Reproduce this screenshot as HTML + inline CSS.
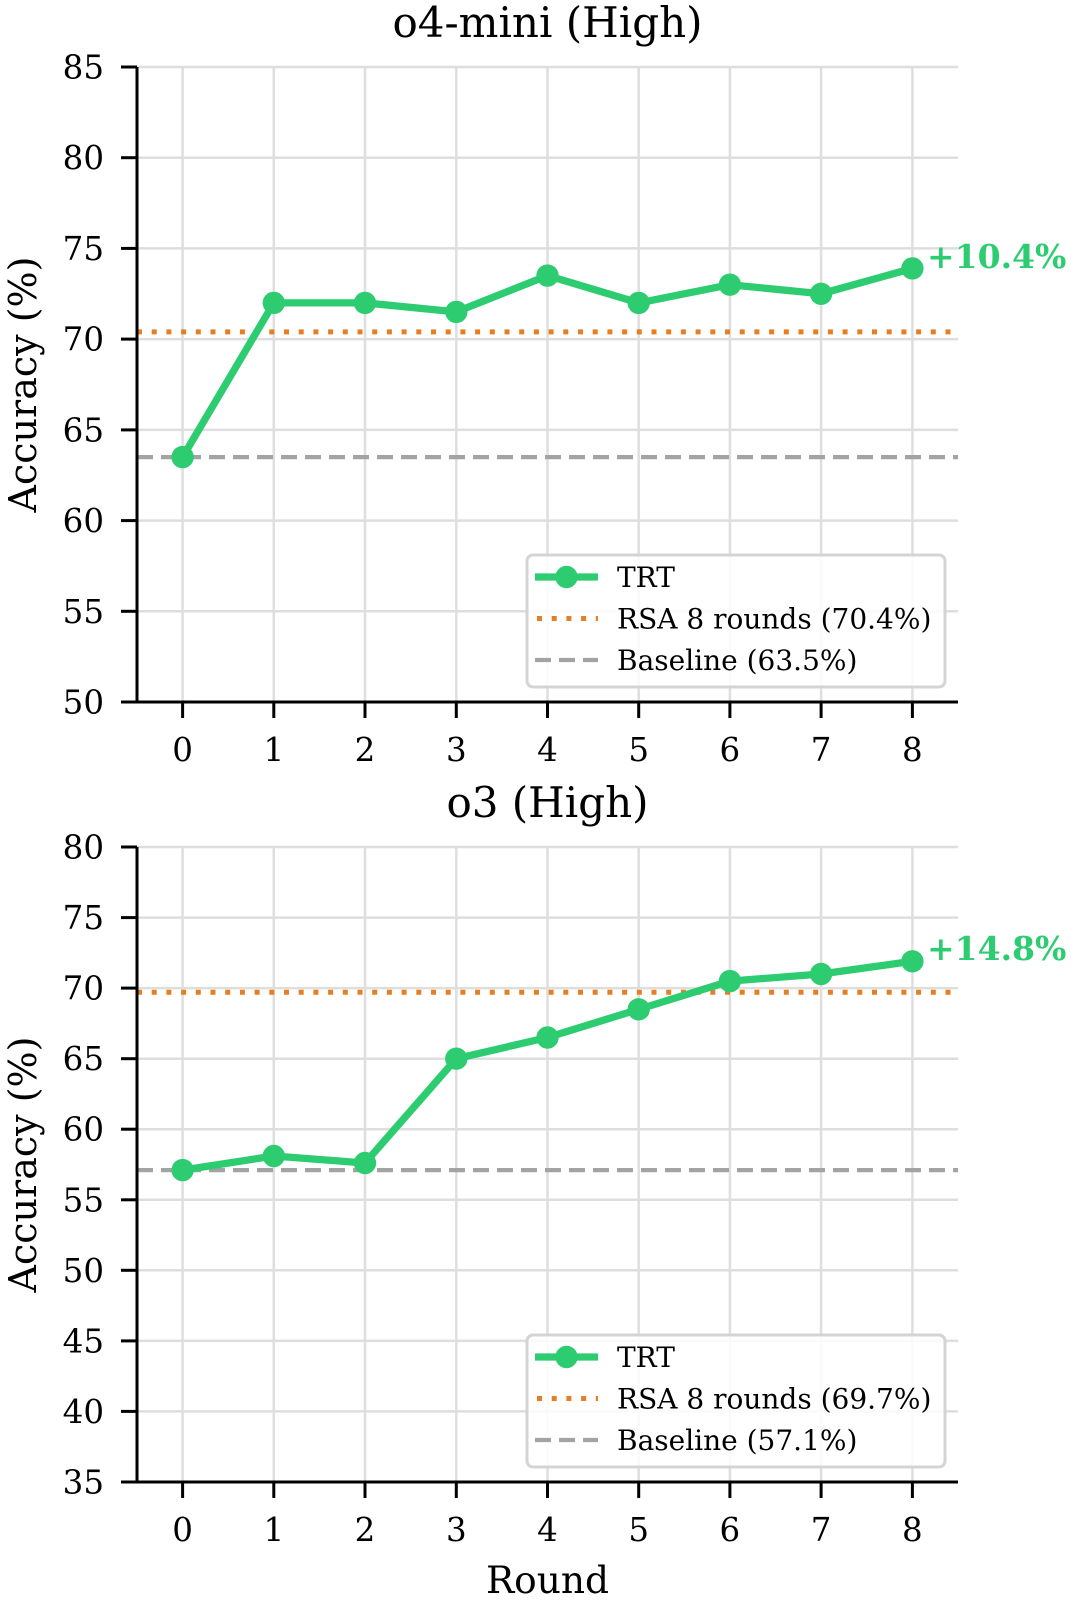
<!DOCTYPE html>
<html>
<head>
<meta charset="utf-8">
<style>
  html,body{margin:0;padding:0;background:#fff;}
  svg{display:block;}
  text{font-family:"DejaVu Serif","Liberation Serif",serif;fill:#000;}
</style>
</head>
<body>
<svg width="1071" height="1600" viewBox="0 0 1071 1600" xmlns="http://www.w3.org/2000/svg">
  <rect x="0" y="0" width="1071" height="1600" fill="#fff"/>

  <!-- ================= TOP PANEL ================= -->
  <g>
    <g stroke="#dedede" stroke-width="2.5">
      <line x1="137" y1="611.3" x2="958" y2="611.3"/>
      <line x1="137" y1="520.6" x2="958" y2="520.6"/>
      <line x1="137" y1="429.9" x2="958" y2="429.9"/>
      <line x1="137" y1="339.1" x2="958" y2="339.1"/>
      <line x1="137" y1="248.4" x2="958" y2="248.4"/>
      <line x1="137" y1="157.7" x2="958" y2="157.7"/>
      <line x1="137" y1="67" x2="958" y2="67"/>
      <line x1="182.6" y1="67" x2="182.6" y2="702"/>
      <line x1="273.8" y1="67" x2="273.8" y2="702"/>
      <line x1="365.0" y1="67" x2="365.0" y2="702"/>
      <line x1="456.3" y1="67" x2="456.3" y2="702"/>
      <line x1="547.5" y1="67" x2="547.5" y2="702"/>
      <line x1="638.7" y1="67" x2="638.7" y2="702"/>
      <line x1="729.9" y1="67" x2="729.9" y2="702"/>
      <line x1="821.1" y1="67" x2="821.1" y2="702"/>
      <line x1="912.4" y1="67" x2="912.4" y2="702"/>
    </g>
    <line x1="137" y1="331.9" x2="958" y2="331.9" stroke="#e67e22" stroke-width="5" stroke-dasharray="5 9.7"/>
    <line x1="137" y1="457.1" x2="958" y2="457.1" stroke="#a3a3a3" stroke-width="4.2" stroke-dasharray="16 8"/>
    <polyline fill="none" stroke="#2ecc71" stroke-width="7.3" stroke-linejoin="round"
      points="182.6,457.1 273.8,302.9 365.0,302.9 456.3,311.9 547.5,275.6 638.7,302.9 729.9,284.7 821.1,293.8 912.4,268.4"/>
    <g fill="#2ecc71">
      <circle cx="182.6" cy="457.1" r="11.2"/>
      <circle cx="273.8" cy="302.9" r="11.2"/>
      <circle cx="365.0" cy="302.9" r="11.2"/>
      <circle cx="456.3" cy="311.9" r="11.2"/>
      <circle cx="547.5" cy="275.6" r="11.2"/>
      <circle cx="638.7" cy="302.9" r="11.2"/>
      <circle cx="729.9" cy="284.7" r="11.2"/>
      <circle cx="821.1" cy="293.8" r="11.2"/>
      <circle cx="912.4" cy="268.4" r="11.2"/>
    </g>
    <text x="927" y="268" font-size="33" font-weight="bold" style="fill:#2ecc71">+10.4%</text>

    <line x1="137" y1="67" x2="137" y2="703.5" stroke="#000" stroke-width="3"/>
    <line x1="135.5" y1="702" x2="958" y2="702" stroke="#000" stroke-width="3"/>
    <g stroke="#000" stroke-width="3">
      <line x1="121" y1="702" x2="137" y2="702"/>
      <line x1="121" y1="611.3" x2="137" y2="611.3"/>
      <line x1="121" y1="520.6" x2="137" y2="520.6"/>
      <line x1="121" y1="429.9" x2="137" y2="429.9"/>
      <line x1="121" y1="339.1" x2="137" y2="339.1"/>
      <line x1="121" y1="248.4" x2="137" y2="248.4"/>
      <line x1="121" y1="157.7" x2="137" y2="157.7"/>
      <line x1="121" y1="67" x2="137" y2="67"/>
      <line x1="182.6" y1="702" x2="182.6" y2="718"/>
      <line x1="273.8" y1="702" x2="273.8" y2="718"/>
      <line x1="365.0" y1="702" x2="365.0" y2="718"/>
      <line x1="456.3" y1="702" x2="456.3" y2="718"/>
      <line x1="547.5" y1="702" x2="547.5" y2="718"/>
      <line x1="638.7" y1="702" x2="638.7" y2="718"/>
      <line x1="729.9" y1="702" x2="729.9" y2="718"/>
      <line x1="821.1" y1="702" x2="821.1" y2="718"/>
      <line x1="912.4" y1="702" x2="912.4" y2="718"/>
    </g>
    <g font-size="32.5" text-anchor="end">
      <text x="104" y="713.5">50</text>
      <text x="104" y="622.8">55</text>
      <text x="104" y="532.1">60</text>
      <text x="104" y="441.4">65</text>
      <text x="104" y="350.6">70</text>
      <text x="104" y="259.9">75</text>
      <text x="104" y="169.2">80</text>
      <text x="104" y="78.5">85</text>
    </g>
    <g font-size="32.5" text-anchor="middle">
      <text x="182.6" y="761">0</text>
      <text x="273.8" y="761">1</text>
      <text x="365.0" y="761">2</text>
      <text x="456.3" y="761">3</text>
      <text x="547.5" y="761">4</text>
      <text x="638.7" y="761">5</text>
      <text x="729.9" y="761">6</text>
      <text x="821.1" y="761">7</text>
      <text x="912.4" y="761">8</text>
    </g>
    <text x="547.5" y="37" font-size="42" text-anchor="middle">o4-mini (High)</text>
    <text transform="translate(36,384.5) rotate(-90)" font-size="38" text-anchor="middle">Accuracy (%)</text>

    <rect x="527" y="555" width="418" height="132" rx="6" ry="6" fill="#fff" fill-opacity="0.85" stroke="#d4d4d4" stroke-width="3"/>
    <line x1="535" y1="577" x2="598" y2="577" stroke="#2ecc71" stroke-width="7.3"/>
    <circle cx="566.5" cy="577" r="11.2" fill="#2ecc71"/>
    <line x1="537" y1="618.5" x2="598" y2="618.5" stroke="#e67e22" stroke-width="5" stroke-dasharray="5 9.7"/>
    <line x1="535" y1="660" x2="598" y2="660" stroke="#a3a3a3" stroke-width="4.2" stroke-dasharray="16 8"/>
    <g font-size="28">
      <text x="617" y="587">TRT</text>
      <text x="617" y="628.5">RSA 8 rounds (70.4%)</text>
      <text x="617" y="670">Baseline (63.5%)</text>
    </g>
  </g>

  <!-- ================= BOTTOM PANEL ================= -->
  <g>
    <g stroke="#dedede" stroke-width="2.5">
      <line x1="137" y1="1411.4" x2="958" y2="1411.4"/>
      <line x1="137" y1="1340.9" x2="958" y2="1340.9"/>
      <line x1="137" y1="1270.3" x2="958" y2="1270.3"/>
      <line x1="137" y1="1199.8" x2="958" y2="1199.8"/>
      <line x1="137" y1="1129.2" x2="958" y2="1129.2"/>
      <line x1="137" y1="1058.7" x2="958" y2="1058.7"/>
      <line x1="137" y1="988.1" x2="958" y2="988.1"/>
      <line x1="137" y1="917.6" x2="958" y2="917.6"/>
      <line x1="137" y1="847" x2="958" y2="847"/>
      <line x1="182.6" y1="847" x2="182.6" y2="1482"/>
      <line x1="273.8" y1="847" x2="273.8" y2="1482"/>
      <line x1="365.0" y1="847" x2="365.0" y2="1482"/>
      <line x1="456.3" y1="847" x2="456.3" y2="1482"/>
      <line x1="547.5" y1="847" x2="547.5" y2="1482"/>
      <line x1="638.7" y1="847" x2="638.7" y2="1482"/>
      <line x1="729.9" y1="847" x2="729.9" y2="1482"/>
      <line x1="821.1" y1="847" x2="821.1" y2="1482"/>
      <line x1="912.4" y1="847" x2="912.4" y2="1482"/>
    </g>
    <line x1="137" y1="992.3" x2="958" y2="992.3" stroke="#e67e22" stroke-width="5" stroke-dasharray="5 9.7"/>
    <line x1="137" y1="1170.1" x2="958" y2="1170.1" stroke="#a3a3a3" stroke-width="4.2" stroke-dasharray="16 8"/>
    <polyline fill="none" stroke="#2ecc71" stroke-width="7.3" stroke-linejoin="round"
      points="182.6,1170.1 273.8,1156 365.0,1163 456.3,1058.7 547.5,1037.5 638.7,1009.3 729.9,981.1 821.1,974 912.4,961.3"/>
    <g fill="#2ecc71">
      <circle cx="182.6" cy="1170.1" r="11.2"/>
      <circle cx="273.8" cy="1156" r="11.2"/>
      <circle cx="365.0" cy="1163" r="11.2"/>
      <circle cx="456.3" cy="1058.7" r="11.2"/>
      <circle cx="547.5" cy="1037.5" r="11.2"/>
      <circle cx="638.7" cy="1009.3" r="11.2"/>
      <circle cx="729.9" cy="981.1" r="11.2"/>
      <circle cx="821.1" cy="974" r="11.2"/>
      <circle cx="912.4" cy="961.3" r="11.2"/>
    </g>
    <text x="927" y="960" font-size="33" font-weight="bold" style="fill:#2ecc71">+14.8%</text>

    <line x1="137" y1="847" x2="137" y2="1483.5" stroke="#000" stroke-width="3"/>
    <line x1="135.5" y1="1482" x2="958" y2="1482" stroke="#000" stroke-width="3"/>
    <g stroke="#000" stroke-width="3">
      <line x1="121" y1="1482" x2="137" y2="1482"/>
      <line x1="121" y1="1411.4" x2="137" y2="1411.4"/>
      <line x1="121" y1="1340.9" x2="137" y2="1340.9"/>
      <line x1="121" y1="1270.3" x2="137" y2="1270.3"/>
      <line x1="121" y1="1199.8" x2="137" y2="1199.8"/>
      <line x1="121" y1="1129.2" x2="137" y2="1129.2"/>
      <line x1="121" y1="1058.7" x2="137" y2="1058.7"/>
      <line x1="121" y1="988.1" x2="137" y2="988.1"/>
      <line x1="121" y1="917.6" x2="137" y2="917.6"/>
      <line x1="121" y1="847" x2="137" y2="847"/>
      <line x1="182.6" y1="1482" x2="182.6" y2="1498"/>
      <line x1="273.8" y1="1482" x2="273.8" y2="1498"/>
      <line x1="365.0" y1="1482" x2="365.0" y2="1498"/>
      <line x1="456.3" y1="1482" x2="456.3" y2="1498"/>
      <line x1="547.5" y1="1482" x2="547.5" y2="1498"/>
      <line x1="638.7" y1="1482" x2="638.7" y2="1498"/>
      <line x1="729.9" y1="1482" x2="729.9" y2="1498"/>
      <line x1="821.1" y1="1482" x2="821.1" y2="1498"/>
      <line x1="912.4" y1="1482" x2="912.4" y2="1498"/>
    </g>
    <g font-size="32.5" text-anchor="end">
      <text x="104" y="1493.5">35</text>
      <text x="104" y="1422.9">40</text>
      <text x="104" y="1352.4">45</text>
      <text x="104" y="1281.8">50</text>
      <text x="104" y="1211.3">55</text>
      <text x="104" y="1140.7">60</text>
      <text x="104" y="1070.2">65</text>
      <text x="104" y="999.6">70</text>
      <text x="104" y="929.1">75</text>
      <text x="104" y="858.5">80</text>
    </g>
    <g font-size="32.5" text-anchor="middle">
      <text x="182.6" y="1541">0</text>
      <text x="273.8" y="1541">1</text>
      <text x="365.0" y="1541">2</text>
      <text x="456.3" y="1541">3</text>
      <text x="547.5" y="1541">4</text>
      <text x="638.7" y="1541">5</text>
      <text x="729.9" y="1541">6</text>
      <text x="821.1" y="1541">7</text>
      <text x="912.4" y="1541">8</text>
    </g>
    <text x="547.5" y="817" font-size="42" text-anchor="middle">o3 (High)</text>
    <text transform="translate(36,1164.5) rotate(-90)" font-size="38" text-anchor="middle">Accuracy (%)</text>
    <text x="547.5" y="1593" font-size="37.5" text-anchor="middle">Round</text>

    <rect x="527" y="1335" width="418" height="132" rx="6" ry="6" fill="#fff" fill-opacity="0.85" stroke="#d4d4d4" stroke-width="3"/>
    <line x1="535" y1="1357" x2="598" y2="1357" stroke="#2ecc71" stroke-width="7.3"/>
    <circle cx="566.5" cy="1357" r="11.2" fill="#2ecc71"/>
    <line x1="537" y1="1398.5" x2="598" y2="1398.5" stroke="#e67e22" stroke-width="5" stroke-dasharray="5 9.7"/>
    <line x1="535" y1="1440" x2="598" y2="1440" stroke="#a3a3a3" stroke-width="4.2" stroke-dasharray="16 8"/>
    <g font-size="28">
      <text x="617" y="1367">TRT</text>
      <text x="617" y="1408.5">RSA 8 rounds (69.7%)</text>
      <text x="617" y="1450">Baseline (57.1%)</text>
    </g>
  </g>
</svg>
</body>
</html>
